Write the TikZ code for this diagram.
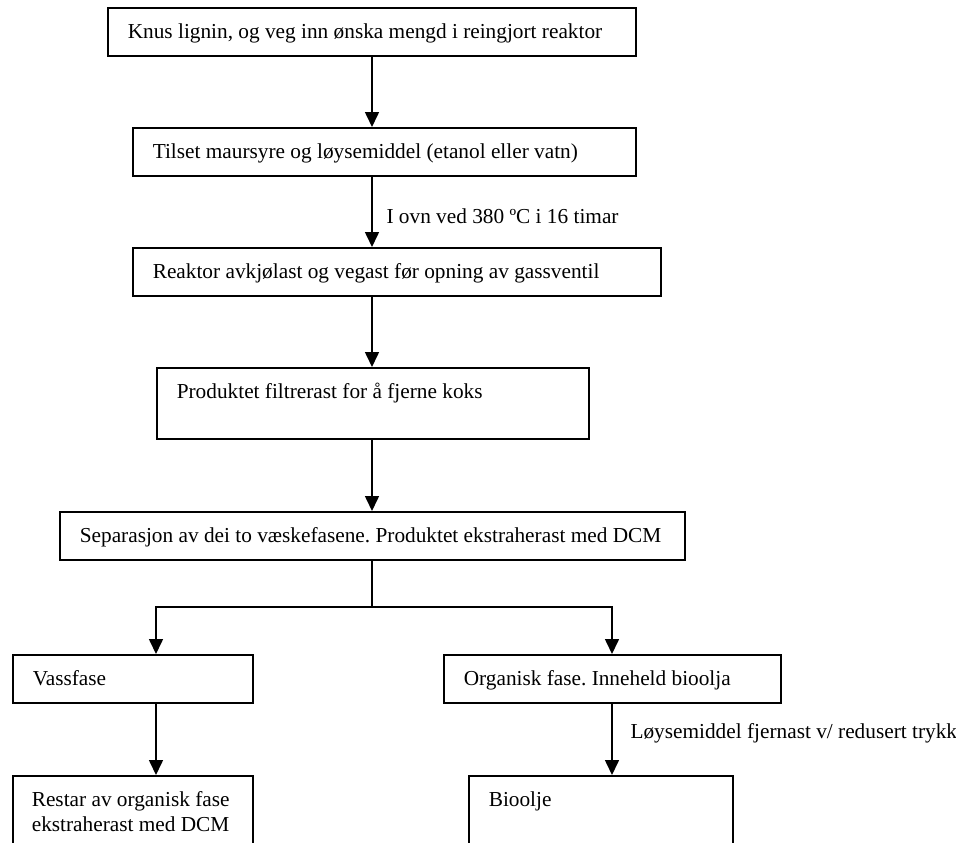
\documentclass[tikz,border=0pt]{standalone}
\usepackage{fontspec}
\setmainfont{Liberation Serif}
\usetikzlibrary{arrows.meta}

\begin{document}
\begin{tikzpicture}[x=1pt, y=-1pt, >={Triangle[width=14pt,length=15pt]},
		font=\fontsize{21.3}{25}\selectfont\frenchspacing,
		boks/.style={draw, line width=1.6pt, anchor=north west, align=flush left,
			inner xsep=20pt, inner ysep=0pt, text height=31pt, text depth=17pt},
		pil/.style={->, line width=1.6pt}]
	\useasboundingbox (0,0) rectangle (956,843);

	% Boksar
	\node[boks, text width=488pt] (knus) at (107,7) {Knus lignin, og veg inn ønska mengd i reingjort reaktor};
	\node[boks, text width=463pt] (tilset) at (132,127) {Tilset maursyre og løysemiddel (etanol eller vatn)};
	\node[boks, text width=488pt] (reaktor) at (132,247) {Reaktor avkjølast og vegast før opning av gassventil};
	\node[boks, text width=392pt, text depth=40pt] (filter) at (156,367) {Produktet filtrerast for å fjerne koks};
	\node[boks, text width=585pt] (sep) at (59,511) {Separasjon av dei to væskefasene. Produktet ekstraherast med DCM};
	\node[boks, text width=200pt] (vass) at (12,654) {Vassfase};
	\node[boks, text width=297pt] (organisk) at (443,654) {Organisk fase. Inneheld bioolja};
	\node[boks, text width=202pt, inner xsep=19pt, text depth=100pt] (restar) at (12,775) {Restar av organisk fase\\ekstraherast med DCM};
	\node[boks, text width=224pt, text depth=100pt] (bioolje) at (468,775) {Bioolje};

	% Piler
	\coordinate (midt) at (372,0);
	\coordinate (venstre) at (156,0);
	\coordinate (hogre) at (612,0);
	\coordinate (grein) at (372,607);

	\draw[pil] (knus.south -| midt) -- (tilset.north -| midt);
	\draw[pil] (tilset.south -| midt) -- (reaktor.north -| midt);
	\node[anchor=base west] (ovn) at (383,223) {I ovn ved 380 ºC i 16 timar};
	\draw[pil] (reaktor.south -| midt) -- (filter.north -| midt);
	\draw[pil] (filter.south -| midt) -- (sep.north -| midt);

	\draw[line width=1.6pt] (sep.south -| midt) -- (grein);
	\draw[pil] (grein) -| (vass.north -| venstre);
	\draw[pil] (grein) -| (organisk.north -| hogre);

	\draw[pil] (vass.south -| venstre) -- (restar.north -| venstre);
	\draw[pil] (organisk.south -| hogre) -- (bioolje.north -| hogre);
	\node[anchor=base west] (trykk) at (627,738) {Løysemiddel fjernast v/ redusert trykk};
\end{tikzpicture}
\end{document}
